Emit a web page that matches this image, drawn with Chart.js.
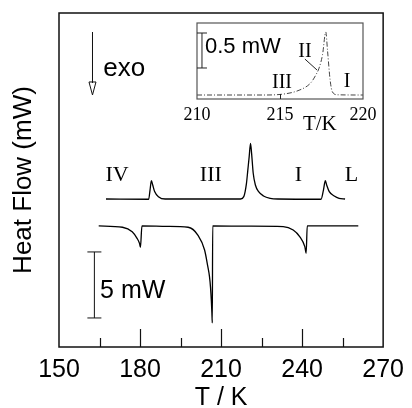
<!DOCTYPE html>
<html>
<head>
<meta charset="utf-8">
<script src="https://cdn.jsdelivr.net/npm/chart.js@4.4.1/dist/chart.umd.min.js"></script>
<style>
  html,body{margin:0;padding:0;background:#fff;}
  #caixa{position:relative;width:412px;height:408px;}
  #caixa canvas{position:absolute;left:0;top:0;}
</style>
</head>
<body>
<div id="caixa">
  <canvas id="cvsPrincipal" width="412" height="408"></canvas>
  <canvas id="cvsInset" width="412" height="408"></canvas>
</div>
<script>
// dados (T em K, fluxo em mW, offset arbitrario)
const aquecimentoT = [167.4, 183.2, 183.7, 184.2, 184.7, 185.4, 186.8, 189.3,
  217.2, 218.4, 219.4, 219.9, 220.4, 220.9, 221.3, 221.9, 222.7, 223.9, 225.7, 228.2, 231,
  247.0, 247.9, 248.6, 249.1, 250.05, 251.9, 253.7, 255.9];
const aquecimentoFluxo = [11.21, 11.19, 11.89, 12.6, 12.27, 11.77, 11.39, 11.21,
  11.21, 11.39, 12.4, 13.4, 14.4, 15.43, 14.67, 13.16, 12.27, 11.77, 11.44, 11.26, 11.21,
  11.19, 11.89, 12.6, 12.27, 11.77, 11.44, 11.26, 11.21];

const resfriamentoT = [164.7, 173.5, 177.1, 178.9, 179.8, 180.15, 180.7, 190,
  197.8, 201.4, 203.9, 205.1, 205.7, 206.1, 206.4, 206.6, 206.75, 206.9, 220,
  233.0, 236.7, 239.1, 241.0, 241.5, 241.9, 260.8];
const resfriamentoFluxo = [9.17, 9.07, 8.73, 8.23, 7.85, 7.55, 9.17, 9.14,
  9.07, 8.48, 7.35, 6.08, 5.35, 4.5, 3.5, 2.6, 1.82, 9.17, 9.15,
  9.12, 8.86, 8.36, 7.6, 7.1, 9.17, 9.17];

const insetT = [210, 214, 215, 216.2, 216.85, 217.15, 217.35, 217.56, 217.76, 217.86, 218.02, 218.16, 218.47, 220];
const insetFluxo = [0.057, 0.057, 0.065, 0.13, 0.23, 0.34, 0.44, 0.63, 0.957, 0.70, 0.27, 0.10, 0.06, 0.057];

// ticks
const ticksPrincipais = [150, 180, 210, 240, 270];
const ticksInternos = [165, 180, 195, 210, 225, 240, 255];
const ticksInset = [210, 215, 220];

// fontes
const sans = "'Liberation Sans', Arial, sans-serif";
const serif = "'Liberation Serif', 'Times New Roman', serif";

const ctxPrincipal = document.getElementById("cvsPrincipal");
const ctxInset = document.getElementById("cvsInset");

function pontos(xs, ys){
  return xs.map((x, i) => ({x: x, y: ys[i]}));
}

// desenha moldura, ticks para dentro e anotacoes do grafico principal
const extrasPrincipal = {
  id: 'extrasPrincipal',
  afterDraw(chart){
    const c = chart.ctx;
    const a = chart.chartArea;
    const sx = chart.scales.x, sy = chart.scales.y;
    c.save();
    c.strokeStyle = '#111';
    c.lineWidth = 1.5;
    c.strokeRect(a.left, a.top, a.right - a.left, a.bottom - a.top);

    c.lineWidth = 1.2;
    ticksInternos.forEach(v => {
      const px = Math.round(sx.getPixelForValue(v)) + 0.5;
      const len = (v % 30 === 0) ? 18 : 9;
      c.beginPath();
      c.moveTo(px, a.bottom);
      c.lineTo(px, a.bottom - len);
      c.stroke();
    });

    // seta exo
    const ax = sx.getPixelForValue(162.4);
    const ay1 = sy.getPixelForValue(23.86), ay2 = sy.getPixelForValue(19.09);
    c.lineWidth = 1;
    c.beginPath();
    c.moveTo(ax, ay1);
    c.lineTo(ax, ay2 - 12);
    c.stroke();
    c.beginPath();
    c.moveTo(ax - 3.5, ay2 - 13);
    c.lineTo(ax + 3.5, ay2 - 13);
    c.lineTo(ax, ay2);
    c.closePath();
    c.stroke();

    c.fillStyle = '#000';
    c.textBaseline = 'middle';
    c.textAlign = 'left';
    c.font = "26px " + sans;
    c.fillText('exo', sx.getPixelForValue(166.4), sy.getPixelForValue(21.1));

    // barra de escala 5 mW
    const bx = sx.getPixelForValue(163.1);
    const b1 = sy.getPixelForValue(7.2), b2 = sy.getPixelForValue(2.2);
    c.beginPath();
    c.moveTo(bx, b1); c.lineTo(bx, b2);
    c.moveTo(bx - 7, b1); c.lineTo(bx + 7, b1);
    c.moveTo(bx - 7, b2); c.lineTo(bx + 7, b2);
    c.stroke();
    c.font = "25px " + sans;
    c.fillText('5 mW', sx.getPixelForValue(165.2), sy.getPixelForValue(4.24));

    // fases
    c.textAlign = 'center';
    c.font = "22px " + serif;
    const fases = [['IV', 171.5], ['III', 206.2], ['I', 238.6], ['L', 258.3]];
    fases.forEach(f => c.fillText(f[0], sx.getPixelForValue(f[1]), sy.getPixelForValue(13.03)));
    c.restore();
  }
};

const extrasInset = {
  id: 'extrasInset',
  afterDraw(chart){
    const c = chart.ctx;
    const a = chart.chartArea;
    const sx = chart.scales.x, sy = chart.scales.y;
    c.save();
    c.strokeStyle = '#555';
    c.lineWidth = 1.2;
    c.strokeRect(a.left, a.top, a.right - a.left, a.bottom - a.top);

    c.strokeStyle = '#222';
    c.lineWidth = 1;
    const tx = Math.round(sx.getPixelForValue(215)) + 0.5;
    c.beginPath();
    c.moveTo(tx, a.bottom); c.lineTo(tx, a.bottom - 5);
    c.stroke();

    // barra 0.5 mW
    const bx = sx.getPixelForValue(210.3);
    const b1 = sy.getPixelForValue(0.943), b2 = sy.getPixelForValue(0.443);
    c.beginPath();
    c.moveTo(bx, b1); c.lineTo(bx, b2);
    c.moveTo(bx - 5, b1); c.lineTo(bx + 5, b1);
    c.moveTo(bx - 5, b2); c.lineTo(bx + 5, b2);
    c.stroke();

    // linha do II
    c.beginPath();
    c.moveTo(sx.getPixelForValue(216.5), sy.getPixelForValue(0.571));
    c.lineTo(sx.getPixelForValue(217.23), sy.getPixelForValue(0.414));
    c.stroke();

    c.fillStyle = '#000';
    c.textBaseline = 'middle';
    c.textAlign = 'left';
    c.font = "22px " + sans;
    c.fillText('0.5 mW', sx.getPixelForValue(210.48), sy.getPixelForValue(0.743));

    c.textAlign = 'center';
    c.font = "20px " + serif;
    c.fillText('II', sx.getPixelForValue(216.5), sy.getPixelForValue(0.67));
    c.fillText('III', sx.getPixelForValue(215.12), sy.getPixelForValue(0.229));
    c.fillText('I', sx.getPixelForValue(219.04), sy.getPixelForValue(0.243));
    c.font = "21px " + serif;
    c.fillText('T/K', sx.getPixelForValue(217.4), sy.getPixelForValue(-0.37));
    c.restore();
  }
};

function criaGraficoPrincipal(){
  new Chart(ctxPrincipal, {
    type: 'line',
    data: {
      datasets: [
        {data: pontos(aquecimentoT, aquecimentoFluxo), borderColor: '#000', borderWidth: 1.3,
         pointRadius: 0, cubicInterpolationMode: 'monotone', fill: false},
        {data: pontos(resfriamentoT, resfriamentoFluxo), borderColor: '#000', borderWidth: 1.3,
         pointRadius: 0, cubicInterpolationMode: 'monotone', fill: false}
      ]
    },
    options: {
      responsive: false,
      animation: false,
      layout: {padding: {left: 0, right: 24, top: 13, bottom: 0}},
      plugins: {legend: {display: false}, tooltip: {enabled: false}},
      scales: {
        x: {
          type: 'linear', min: 150, max: 270,
          afterBuildTicks: s => { s.ticks = ticksPrincipais.map(v => ({value: v})); },
          afterFit: s => { s.height = 61; },
          ticks: {font: {family: sans, size: 25}, color: '#000', padding: 8, maxRotation: 0, autoSkip: false},
          grid: {display: false, drawTicks: false},
          border: {display: false},
          title: {display: true, text: 'T / K', color: '#000', font: {family: sans, size: 25, lineHeight: 1}, padding: {top: 0, bottom: -3}}
        },
        y: {
          min: 0, max: 25.3,
          afterFit: s => { s.width = 59; },
          ticks: {display: false},
          grid: {display: false, drawTicks: false},
          border: {display: false},
          title: {display: true, text: 'Heat Flow (mW)', color: '#000', font: {family: sans, size: 26}, padding: {top: 8, bottom: 0}}
        }
      }
    },
    plugins: [extrasPrincipal]
  });
}

function criaGraficoInset(){
  new Chart(ctxInset, {
    type: 'line',
    data: {
      datasets: [
        {data: pontos(insetT, insetFluxo), borderColor: '#444', borderWidth: 1,
         borderDash: [5, 2, 1, 2], pointRadius: 0, cubicInterpolationMode: 'monotone', fill: false}
      ]
    },
    options: {
      responsive: false,
      animation: false,
      layout: {padding: {left: 197, right: 49, top: 23, bottom: 0}},
      plugins: {legend: {display: false}, tooltip: {enabled: false}},
      scales: {
        x: {
          type: 'linear', min: 210, max: 220,
          afterBuildTicks: s => { s.ticks = ticksInset.map(v => ({value: v})); },
          afterFit: s => { s.height = 309; },
          ticks: {font: {family: serif, size: 18}, color: '#000', padding: 5, maxRotation: 0, autoSkip: false},
          grid: {display: false, drawTicks: false},
          border: {display: false}
        },
        y: {display: false, min: 0, max: 1.086}
      }
    },
    plugins: [extrasInset]
  });
}

window.addEventListener("load", () => {
  criaGraficoPrincipal();
  criaGraficoInset();
});
</script>
</body>
</html>
